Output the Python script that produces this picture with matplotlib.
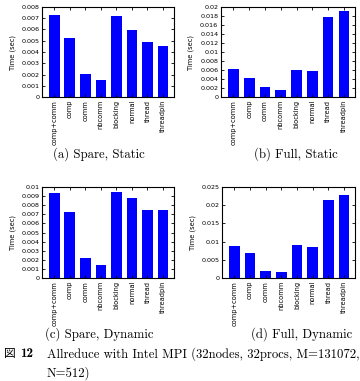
import numpy as np
import matplotlib.pyplot as plt

# bar labels shared by all four panels
labels = ['comp+comm', 'comp', 'comm', 'nbcomm', 'blocking', 'normal', 'thread', 'threadpin']

# times in seconds
spare_static = [0.00726, 0.00524, 0.00207, 0.00148, 0.00717, 0.00593, 0.00486, 0.00456]
full_static = [0.0063, 0.0042, 0.0023, 0.0015, 0.00607, 0.0057, 0.0178, 0.0191]
spare_dynamic = [0.00934, 0.00723, 0.00218, 0.00148, 0.00945, 0.00875, 0.00745, 0.00753]
full_dynamic = [0.00883, 0.00697, 0.00204, 0.00158, 0.0091, 0.00846, 0.0214, 0.0229]

captions = ['(a) Spare, Static', '(b) Full, Static', '(c) Spare, Dynamic', '(d) Full, Dynamic']

fig = plt.figure(figsize=(3.6, 3.81), dpi=100)

panels = [
    (spare_static, [0.117, 0.745, 0.366, 0.237], np.arange(0, 0.0081, 0.001), ['0', '0.001', '0.002', '0.003', '0.004', '0.005', '0.006', '0.007', '0.008']),
    (full_static, [0.614, 0.745, 0.372, 0.237], np.arange(0, 0.0201, 0.002), ['0', '0.002', '0.004', '0.006', '0.008', '0.01', '0.012', '0.014', '0.016', '0.018', '0.02']),
    (spare_dynamic, [0.117, 0.270, 0.366, 0.239], np.arange(0, 0.0101, 0.001), ['0', '0.001', '0.002', '0.003', '0.004', '0.005', '0.006', '0.007', '0.008', '0.009', '0.01']),
    (full_dynamic, [0.617, 0.270, 0.369, 0.239], np.arange(0, 0.0251, 0.005), ['0', '0.005', '0.01', '0.015', '0.02', '0.025']),
]

x = np.arange(len(labels))
for vals, pos, yt, ytl in panels:
    ax = fig.add_axes(pos)
    ax.bar(x, vals, width=0.68, color='#0000ff')
    ax.set_xlim(-0.78, 7.7)
    ax.set_ylim(yt[0], yt[-1])
    ax.set_yticks(yt)
    ax.set_yticklabels(ytl, fontsize=4.6)
    ax.set_xticks(x)
    ax.set_xticklabels(labels, rotation=90, fontsize=4.8)
    ax.tick_params(direction='in', length=2.5, width=0.6, top=True, right=True, pad=2)
    for s in ax.spines.values():
        s.set_linewidth(0.8)
    ax.set_ylabel('Time (sec)', fontsize=4.8, labelpad=4)

cap_font = 'cmr10'
fig.text(0.275, 1 - 154 / 381, captions[0], fontsize=9.2, family=cap_font, ha='center', va='center')
fig.text(0.822, 1 - 154 / 381, captions[1], fontsize=9.2, family=cap_font, ha='center', va='center')
fig.text(0.275, 1 - 334 / 381, captions[2], fontsize=9.2, family=cap_font, ha='center', va='center')
fig.text(0.838, 1 - 334 / 381, captions[3], fontsize=9.2, family=cap_font, ha='center', va='center')

fig.text(4 / 360, 1 - 354 / 381, '図', fontsize=8.5, family=['Noto Sans CJK JP'], va='center')
fig.text(20 / 360, 1 - 354 / 381, '12', fontsize=9.5, family='cmb10', va='center')
fig.text(47 / 360, 1 - 354 / 381, 'Allreduce with Intel MPI (32nodes, 32procs, M=131072,',
         fontsize=9.1, family=cap_font, va='center')
fig.text(47 / 360, 1 - 373 / 381, 'N=512)', fontsize=9.1, family=cap_font, va='center')

fig.savefig('out.png', dpi=100)
